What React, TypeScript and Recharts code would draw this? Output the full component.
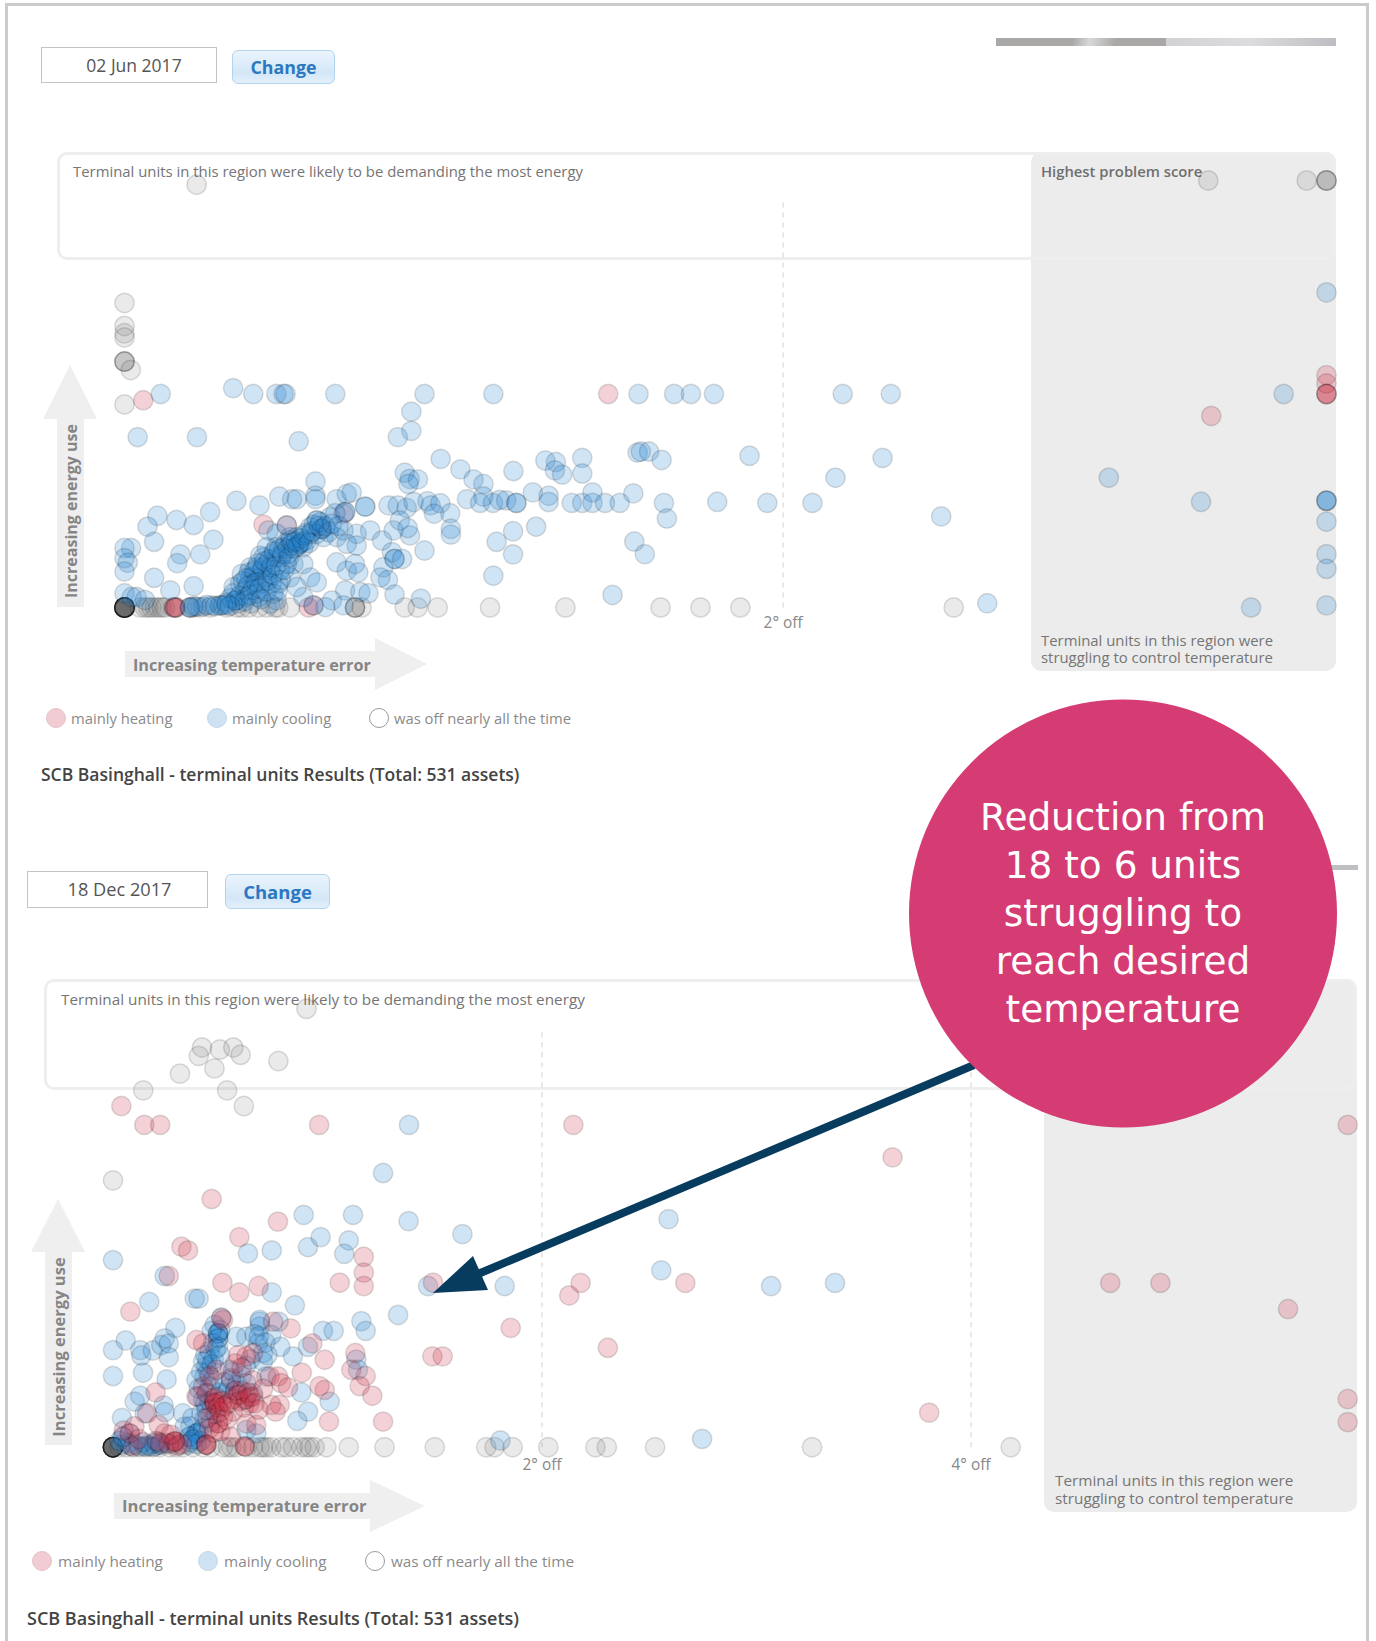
import React from "react";
import { ScatterChart, Scatter, XAxis, YAxis, ReferenceLine } from "recharts";

type Pt = [number, number];

// x = degrees off setpoint, y = energy use score (no scale printed, read as 0-105)
const junHeating: Pt[] = [
  [0.057, 49.5], [1.469, 51], [3.3, 45.75], [3.65, 55.5], [3.65, 53.5], [3.65, 51], [3.65, 51], [3.65, 51],
  [0.422, 19.8], [0.493, 19.6], [0.599, 18.8], [0.559, 0], [0.574, 0.5], [0.153, 0], [0.153, 0], [0.153, 0], [0.665, 22.4],
];

const junOff: Pt[] = [
  [0.219, 101], [3.291, 102], [3.59, 102], [3.65, 102], [3.65, 102], [3.65, 102],
  [0, 72.75], [0, 67.25], [0, 65.5], [0, 64.5], [0, 58.75], [0, 58.75], [0, 58.75], [0.019, 56.75], [0, 48.5],
  [0, 0], [0, 0], [0, 0], [0, 0], [0, 0], [0, 0], [0, 0], [0, 0], [0, 0], [0, 0], [0, 0], [0, 0], [0, 0], [0, 0], [0, 0], [0, 0],
  [0.047, 0], [0.062, 0], [0.072, 0], [0.082, 0], [0.093, 0], [0.103, 0], [0.113, 0], [0.123, 0], [0.148, 0], [0.158, 0],
  [0.199, 0], [0.209, 0], [0.229, 0], [0.26, 0], [0.311, 0], [0.341, 0], [0.356, 0], [0.377, 0], [0.407, 0], [0.432, 0],
  [0.457, 0], [0.467, 0], [0.503, 0], [0.7, 0], [0.7, 0], [0.7, 0], [0.72, 0], [0.851, 0], [0.89, 0], [0.951, 0], [1.11, 0],
  [1.339, 0], [1.628, 0], [1.749, 0], [1.87, 0], [2.518, 0],
];

const junCooling: Pt[] = [
  [0.11, 51], [0.33, 52.4], [0.391, 51], [0.461, 51], [0.483, 51], [0.489, 51], [0.64, 51], [0.911, 51], [1.12, 51],
  [1.561, 51], [1.669, 51], [1.72, 51], [1.79, 51], [2.181, 51], [2.327, 51], [3.52, 51],
  [0.04, 40.7], [0.22, 40.7], [0.529, 39.7], [0.871, 46.8], [0.871, 42.2], [0.83, 40.7], [0.96, 35.5], [1.02, 33],
  [1.06, 30.6], [1.09, 29.5], [1.181, 32.6], [1.278, 35.1], [0.851, 32.2], [0.866, 30.7], [0.891, 30.6], [0.862, 29.5], [0.58, 30.1],
  [1.04, 25.9], [1.09, 26.5], [1.08, 25], [1.119, 25], [1.139, 25.7], [1.159, 25.6], [1.19, 25], [1.19, 25], [1.24, 27.5], [1.288, 26.7], [1.288, 25.2],
  [0.34, 25.5], [0.41, 24.4], [0.47, 26.5], [0.509, 25.9], [0.523, 25.9], [0.58, 26.7], [0.58, 25.9], [0.644, 25.9], [0.675, 27.1], [0.69, 27.5],
  [0.67, 22.8], [0.67, 22.8], [0.731, 24.1], [0.731, 24.1], [0.802, 24.4], [0.83, 24.4], [0.857, 23.8], [0.878, 25.2], [0.92, 25.4], [0.93, 24.4],
  [0.959, 24.9], [0.989, 22.5], [0.94, 22.4], [0.991, 18.8], [0.991, 17.4],
  [0.1, 21.9], [0.07, 19.3], [0.158, 20.9], [0.21, 19.7], [0.26, 22.8], [0.09, 15.7], [0.27, 16.2], [0.02, 14.2], [0, 14.2], [0, 11.8], [0.01, 10.7], [0, 8.6],
  [0.17, 12.7], [0.16, 10.6], [0.23, 12.7], [0.09, 7.1], [0.139, 4.1], [0.21, 5.1], [0, 3.4], [0.022, 2.5], [0.037, 2.5], [0.062, 1.8],
  [0.199, 0], [0.199, 0], [0.24, 0.2], [0.265, 0.5], [0.29, 0.5], [0.29, 0.5], [0.337, 1.7], [0.337, 1.7], [0.337, 1.7],
  [0.331, 4.9], [0.382, 7.2], [0.392, 7.6], [0.402, 3.3], [0.407, 2.5], [0.422, 5.7], [0.377, 8.4], [0.442, 8.8], [0.462, 12], [0.422, 12], [0.452, 12.8],
  [0.483, 14.4], [0.503, 14.8], [0.531, 15.2], [0.531, 15.2], [0.531, 15.2], [0.553, 16], [0.584, 20.8], [0.584, 20.8], [0.599, 18.8], [0.599, 18.8],
  [0.624, 21.6], [0.564, 17.6], [0.493, 19.6], [0.437, 18.4], [0.462, 17.6], [0.513, 10.4], [0.503, 7.2], [0.543, 10.4], [0.564, 7.2], [0.584, 6],
  [0.644, 10.8], [0.675, 8.8], [0.7, 10.4], [0.71, 8.4], [0.67, 4.1], [0.716, 3.7], [0.741, 3.4], [0.63, 1.7], [0.61, 0.1], [0.574, 0.5], [0.543, 2.5], [0.523, 4.9], [0.665, 0.5],
  [0.644, 16.8], [0.665, 18.4], [0.705, 17.6], [0.705, 14.8], [0.675, 15.2], [0.746, 18.4], [0.817, 18.4], [0.867, 17.2], [0.836, 20.8], [0.782, 16],
  [0.812, 13.2], [0.82, 11.6], [0.82, 11.6], [0.843, 11.6], [0.786, 9.6], [0.8, 6.6], [0.777, 7.2], [0.82, 3.1], [0.911, 13.6], [0.9, 2.1], [0.86, 19],
  [1.13, 15.7], [1.18, 18.2], [1.25, 19.3], [1.18, 12.7], [1.12, 7.6],
  [0.351, 5.7], [0.356, 8], [0.366, 4.1], [0.371, 2.5], [0.382, 9.6], [0.392, 5.7], [0.402, 9.6], [0.412, 7.2], [0.417, 8.8], [0.432, 7.2], [0.432, 10.4],
  [0.447, 5.7], [0.452, 3.3], [0.462, 1.7], [0.467, 5.7], [0.472, 8.8], [0.477, 12], [0.493, 10.4], [0.498, 12.8], [0.412, 12.4], [0.432, 14.4], [0.462, 14.4],
  [0.503, 16.8], [0.523, 16.8], [0.543, 14.4], [0.564, 19.2], [0.584, 17.6], [0.604, 16.8], [0.442, 0.9],
  [1.31, 34.75], [1.307, 32.75], [1.329, 31.75], [1.39, 35.75], [1.39, 32], [1.558, 37], [1.568, 37.25], [1.593, 37.25], [1.631, 35.25], [1.898, 36.25],
  [2.302, 35.75], [2.159, 31], [1.358, 25], [1.39, 25], [1.421, 27.5], [1.421, 25], [1.459, 25], [1.504, 25], [1.545, 27.25], [1.638, 25], [1.647, 21.25],
  [1.8, 25.25], [1.952, 25], [2.089, 25], [2.48, 21.75], [3.269, 25.25], [2.989, 31], [1.548, 15.75], [1.58, 12.75], [1.482, 3], [2.62, 1],
  [3.65, 75.25], [3.65, 25.5], [3.65, 25.5], [3.65, 25.5], [3.65, 20.5], [3.65, 12.75], [3.65, 9.25], [3.65, 0.5], [3.421, 0],
  // dense band along the ridge
  [0.31, 1.2], [0.32, 2.2], [0.33, 3.4], [0.345, 1], [0.35, 2.8], [0.36, 6.2], [0.365, 1.5], [0.37, 7], [0.375, 5.2], [0.38, 3], [0.385, 1], [0.39, 4.2],
  [0.395, 8.8], [0.4, 6], [0.405, 10.5], [0.41, 4.6], [0.415, 2], [0.42, 9.5], [0.425, 11], [0.43, 3.8], [0.435, 6.4], [0.44, 11.5], [0.445, 9.6], [0.45, 7.8],
  [0.455, 13.4], [0.46, 10], [0.465, 4], [0.47, 14], [0.475, 6.6], [0.48, 12.8], [0.485, 9], [0.49, 15.4], [0.495, 14], [0.5, 12], [0.505, 16], [0.51, 15.5],
  [0.515, 14.2], [0.52, 15.8], [0.525, 14.6], [0.535, 16.5], [0.54, 15.6], [0.545, 17.2], [0.55, 17.8], [0.56, 15.4], [0.57, 18.2], [0.575, 19.8], [0.59, 19.5],
  [0.595, 20.4], [0.61, 19.4], [0.62, 18], [0.63, 20], [0.64, 22.5], [0.65, 19.5],
  [0.21, 0.3], [0.22, 0.2], [0.25, 0.6], [0.275, 0.3], [0.3, 0.5], [0.31, 0.7], [0.32, 0.4],
];

const decHeating: Pt[] = [
  [0.46, 59.3], [0.769, 53.9], [0.589, 50.2], [0.319, 47.9], [0.35, 47], [0.26, 40.9], [0.51, 39.3], [0.589, 37], [0.679, 38.5], [0.081, 32.4],
  [1.057, 39.3], [1.169, 45.5], [1.169, 41.7], [1.169, 38.5], [1.492, 39.3], [0.828, 28.4], [0.746, 30], [0.929, 24.8], [0.987, 20.9], [0.88, 17.8],
  [1.13, 22.5], [1.111, 18.5], [1.178, 17], [1.15, 14.6], [1.209, 12.3], [1.259, 6.1], [1.007, 6.1], [0.987, 13.7], [0.963, 14.6], [0.389, 25.6], [0.42, 24.8],
  [0.199, 13.1], [0.159, 8.1], [0.213, 5.3], [0.513, 30.4], [0.505, 30.8], [0.583, 22], [0.622, 21.7], [0.653, 22.5], [0.73, 16.9], [0.769, 16.9], [0.784, 15.3],
  [0.816, 14.3], [0.474, 10.5], [0.474, 10.5], [0.474, 10.5], [0.49, 10.9], [0.583, 12.5], [0.583, 12.5], [0.637, 10.5], [0.653, 12.1], [0.559, 8.5],
  [0.49, 5.7], [0.49, 5.7], [0.513, 7.3], [0.435, 12.9], [0.389, 12.1], [0.622, 5.7], [0.668, 5.3], [0.738, 10.1], [0.777, 10.1], [0.758, 8.5], [0.482, 18.5],
  [0.435, 0.6], [0.435, 0.6], [0.435, 0.6], [0.614, 0.2], [0.614, 0.2], [0.288, 1.4], [0.288, 1.4], [0.288, 1.4], [0.093, 0.2], [0.241, 3.3], [0.078, 3.3],
  [0.039, 81.5], [0.146, 77], [0.22, 77], [0.961, 77], [2.146, 77], [3.634, 69.25], [5.756, 77], [1.854, 28.5], [1.489, 21.7], [1.537, 21.7], [2.307, 23.75],
  [2.127, 36.25], [2.18, 39.25], [2.668, 39.25], [4.649, 39.25], [4.883, 39.25], [5.478, 33], [5.756, 11.5], [5.756, 6], [3.805, 8.25],
  // red core of the cluster
  [0.46, 9], [0.47, 11.5], [0.48, 12], [0.49, 9.5], [0.5, 8.5], [0.51, 11], [0.52, 9.8], [0.53, 6.5], [0.54, 10.5], [0.56, 11.5], [0.57, 13.5], [0.59, 11],
  [0.6, 13.5], [0.61, 9.5], [0.62, 11.5], [0.63, 13], [0.64, 12], [0.66, 10.5], [0.44, 7], [0.45, 4.5], [0.47, 3.5], [0.5, 3.8], [0.55, 2.5], [0.42, 14.5],
  [0.45, 17], [0.55, 16.5], [0.57, 20], [0.6, 19], [0.65, 16], [0.68, 9], [0.7, 14],
  [0.05, 4], [0.1, 5], [0.12, 2], [0.2, 1.5], [0.22, 1], [0.26, 0.8], [0.3, 0.4], [0.32, 0.7], [0.27, 3],
];

const decOff: Pt[] = [
  [0.902, 104.75], [0.415, 95.5], [0.4, 93.5], [0.498, 95], [0.561, 95.5], [0.595, 93.75], [0.473, 90.5], [0.312, 89.25], [0.771, 92.25],
  [0.141, 85.25], [0.532, 85.25], [0.61, 81.5], [0, 63.75],
  [0, 0], [0, 0], [0, 0], [0, 0], [0, 0], [0, 0], [0, 0], [0, 0], [0, 0], [0, 0], [0, 0], [0, 0], [0, 0], [0, 0], [0, 0], [0, 0],
  [0.031, 0], [0.062, 0], [0.093, 0], [0.124, 0], [0.155, 0], [0.186, 0], [0.218, 0], [0.264, 0], [0.295, 0], [0.326, 0], [0.373, 0], [0.42, 0], [0.458, 0],
  [0.513, 0], [0.536, 0], [0.552, 0], [0.575, 0], [0.622, 0], [0.653, 0], [0.684, 0], [0.699, 0], [0.715, 0], [0.738, 0], [0.785, 0], [0.808, 0], [0.839, 0],
  [0.878, 0], [0.901, 0], [0.917, 0], [0.94, 0], [0.995, 0], [1.099, 0], [1.266, 0], [1.5, 0], [1.74, 0], [1.779, 0],
  [1.863, 0], [2.029, 0], [2.249, 0], [2.302, 0], [2.527, 0], [3.259, 0], [4.185, 0],
];

const decCooling: Pt[] = [
  [0.889, 55.5], [1.119, 55.5], [1.378, 54], [1.629, 50.9], [0.629, 46.3], [0.74, 47], [0.909, 47.8], [0.968, 50.2], [1.099, 49.4], [1.078, 46.2], [0, 44.7],
  [0.241, 40.9], [0.169, 34.7], [0.381, 35.5], [0.399, 35.5], [0.74, 37], [0.848, 33.9], [1.469, 38.5], [1.826, 38.5], [1.329, 31.6], [0.291, 28.5],
  [1.158, 30.1], [1.178, 27.8], [0.979, 27.8], [1.029, 27.8], [0.684, 30], [0.772, 30], [0.738, 26.8], [0.059, 25.5], [0, 23.2], [0.127, 23.2], [0.132, 21.9],
  [0.186, 23.1], [0.225, 24.4], [0.241, 26], [0.26, 24.8], [0.26, 21.5], [0, 17], [0.14, 17.8], [0.25, 16.2], [0.101, 10.9], [0.127, 12.3], [0.042, 7],
  [0.148, 8.1], [0.236, 10], [0.241, 8.4], [0.909, 8.5], [0.859, 6.3], [1.01, 10.9], [0.878, 13.1], [0.839, 21.7], [0.909, 24], [0.78, 24], [1.134, 20.9], [1.142, 18.5],
  [0.505, 31], [0.474, 29.2], [0.49, 27.2], [0.49, 27.2], [0.49, 27.2], [0.49, 26], [0.49, 26], [0.466, 24.8], [0.435, 19.3], [0.427, 16.9], [0.443, 18.1],
  [0.389, 16.1], [0.396, 12.1], [0.412, 8.1], [0.427, 6.8], [0.389, 3.3], [0.389, 3.3], [0.389, 3.3], [0.357, 2.5], [0.357, 2.5], [0.326, 8.1], [0.334, 4.9],
  [0.575, 26.4], [0.622, 26.4], [0.684, 28.8], [0.684, 30.4], [0.676, 24.8], [0.699, 22.5], [0.699, 20.5], [0.559, 18.1], [0.622, 15.3], [0.528, 12.9], [0.544, 18.5],
  [0.451, 14.5], [0.466, 16.1], [0.42, 11.3], [0.435, 8.9], [0.614, 11.3], [0.653, 12.9], [0.622, 4.1], [0.668, 3.3], [0.715, 16.9],
  [0.039, 0.6], [0.047, 2.5], [0.047, 2.5], [0.078, 3.3], [0.148, 0.2], [0.171, 0.2], [0.194, 0.2], [0.218, 0.6], [0.218, 0.6], [0.249, 1], [0.28, 1], [1.806, 1.6],
  [1.38, 77], [1.259, 65.5], [2.59, 54.5], [2.556, 42.25], [3.068, 38.5], [3.366, 39.25], [2.746, 2],
  // blue part of the cluster
  [0.4, 14], [0.41, 18], [0.42, 20.5], [0.43, 22], [0.44, 21], [0.45, 23], [0.46, 19.8], [0.47, 21], [0.48, 23.5], [0.49, 24], [0.5, 22], [0.46, 27.8], [0.5, 28],
  [0.43, 10.5], [0.44, 13], [0.45, 11], [0.46, 6], [0.48, 8], [0.5, 13], [0.52, 15.5], [0.54, 14], [0.55, 16], [0.57, 13.5], [0.58, 15], [0.6, 17], [0.62, 19.5],
  [0.64, 21], [0.66, 27], [0.68, 26.5], [0.71, 25], [0.72, 22], [0.36, 5], [0.37, 7], [0.38, 2], [0.4, 3.5], [0.41, 1.5], [0.35, 0.6], [0.36, 1.2], [0.37, 1.8],
  [0.39, 0.8], [0.42, 4.5], [0.07, 1], [0.08, 0.4], [0.1, 0.7], [0.12, 0.3], [0.14, 1.2], [0.16, 0.5], [0.19, 0.9], [0.21, 1.3], [0.03, 1.5],
];

const junTicks = [2];
const decTicks = [2, 4];
const legendNames = ["mainly heating", "mainly cooling", "was off nearly all the time"];
const calloutLines = ["Reduction from", "18 to 6 units", "struggling to", "reach desired", "temperature"];

const FONT = "'Open Sans', sans-serif";

const toRows = (pts: Pt[]) => pts.map(([x, y]) => ({ x, y }));

const dot = (fill: string) => (p: any) =>
  <circle cx={p.cx} cy={p.cy} r={9.7} fill={fill} stroke="rgba(0,0,0,0.135)" strokeWidth={1.5} />;

const HEAT = "rgba(205,45,70,0.22)";
const COOL = "rgba(35,130,210,0.22)";
const OFF = "rgba(90,90,90,0.13)";

const Box: React.FC<{ l: number; t: number; w: number; h: number; style?: React.CSSProperties; children?: React.ReactNode }> = ({ l, t, w, h, style, children }) => (
  <div style={{ position: "absolute", left: l, top: t, width: w, height: h, boxSizing: "border-box", ...style }}>{children}</div>
);

const Txt: React.FC<{ l: number; cy: number; size: number; color: string; bold?: number; children: React.ReactNode }> = ({ l, cy, size, color, bold, children }) => (
  <div style={{ position: "absolute", left: l, top: cy - 15, height: 30, lineHeight: "30px", fontSize: size, color, fontWeight: bold ?? 400, whiteSpace: "nowrap" }}>
    {children}
  </div>
);

const DateRow: React.FC<{ label: string; box: number[]; btn: number[]; size: number; btnSize: number; pad: number }> = ({ label, box, btn, size, btnSize, pad }) => (
  <>
    <Box l={box[0]} t={box[1]} w={box[2]} h={box[3]} style={{ border: "1.5px solid #c4c4c4", background: "#fff", textAlign: "center", lineHeight: `${box[3] - 2}px`, paddingLeft: pad, fontSize: size, color: "#555" }}>
      {label}
    </Box>
    <Box l={btn[0]} t={btn[1]} w={btn[2]} h={btn[3]} style={{ border: "1.5px solid #b3d4ee", borderRadius: 6, background: "linear-gradient(#eaf4fc, #d3e7f8 70%, #e4f0fb)", textAlign: "center", lineHeight: `${btn[3] - 2}px`, fontSize: btnSize, fontWeight: 700, color: "#2b78c0" }}>
      Change
    </Box>
  </>
);

const Legend: React.FC<{ cy: number; dots: number[]; labels: number[]; size: number }> = ({ cy, dots, labels, size }) => (
  <>
    {legendNames.map((name, i) => (
      <React.Fragment key={name}>
        <Box l={dots[i] - 10} t={cy - 10} w={20} h={20} style={{ borderRadius: "50%", background: ["#f1ccd2", "#cfe2f3", "#fff"][i], border: `1.5px solid ${["#e6c3ca", "#c3d7e8", "#999"][i]}` }} />
        <Txt l={labels[i]} cy={cy} size={size} color="#8a8a8a">{name}</Txt>
      </React.Fragment>
    ))}
  </>
);

const UpArrow: React.FC<{ tipX: number; tipY: number; baseY: number; endY: number; label: string; labelY: number; labelX: number; size: number }> = ({ tipX, tipY, baseY, endY, label, labelX, labelY, size }) => (
  <svg style={{ position: "absolute", left: 0, top: 0 }} width={1376} height={1641}>
    <polygon fill="#efefef" points={`${tipX},${tipY} ${tipX + 27},${baseY} ${tipX + 14},${baseY} ${tipX + 14},${endY} ${tipX - 13},${endY} ${tipX - 13},${baseY} ${tipX - 27},${baseY}`} />
    <text x={labelX} y={labelY} transform={`rotate(-90 ${labelX} ${labelY})`} textAnchor="middle" dominantBaseline="central" fontFamily={FONT} fontWeight={700} fontSize={size} fill="#858585">{label}</text>
  </svg>
);

const RightArrow: React.FC<{ x0: number; x1: number; tip: number; cy: number; label: string; tx: number; ty: number; size: number }> = ({ x0, x1, tip, cy, label, tx, ty, size }) => (
  <svg style={{ position: "absolute", left: 0, top: 0 }} width={1376} height={1641}>
    <polygon fill="#efefef" points={`${x0},${cy - 13} ${x1},${cy - 13} ${x1},${cy - 26} ${tip},${cy} ${x1},${cy + 26} ${x1},${cy + 13} ${x0},${cy + 13}`} />
    <text x={tx} y={ty} dominantBaseline="central" fontFamily={FONT} fontWeight={700} fontSize={size} fill="#858585">{label}</text>
  </svg>
);

const Plot: React.FC<{
  top: number; height: number; margin: any; xMax: number; yMax: number; ticks: number[]; lineTop: number; tickMargin: number; heatingOnTop?: boolean;
  heating: Pt[]; cooling: Pt[]; off: Pt[];
}> = ({ top, height, margin, xMax, yMax, ticks, lineTop, tickMargin, heatingOnTop, heating, cooling, off }) => (
  <div style={{ position: "absolute", left: 0, top }}>
    <ScatterChart width={1376} height={height} margin={margin}>
      <XAxis type="number" dataKey="x" domain={[0, xMax]} ticks={ticks} interval={0} tickFormatter={(v: number) => `${v}° off`} axisLine={false} tickLine={false} tickSize={0} tickMargin={tickMargin} height={30} tick={{ fontFamily: FONT, fontSize: 15.4, fill: "#888" }} />
      <YAxis type="number" dataKey="y" domain={[0, yMax]} hide />
      {ticks.map((t) => (
        <ReferenceLine key={t} segment={[{ x: t, y: 0 }, { x: t, y: lineTop }]} stroke="#dcdcdc" strokeWidth={1.3} strokeDasharray="5 5" />
      ))}
      <Scatter data={toRows(off)} shape={dot(OFF)} isAnimationActive={false} />
      {heatingOnTop ? null : <Scatter data={toRows(heating)} shape={dot(HEAT)} isAnimationActive={false} />}
      <Scatter data={toRows(cooling)} shape={dot(COOL)} isAnimationActive={false} />
      {heatingOnTop ? <Scatter data={toRows(heating)} shape={dot(HEAT)} isAnimationActive={false} /> : null}
    </ScatterChart>
  </div>
);

export default function App() {
  return (
    <div style={{ position: "absolute", left: 0, top: 0, width: 1376, height: 1641, overflow: "hidden", background: "#fff", fontFamily: FONT }}>
      {/* page frame */}
      <Box l={5} t={3} w={1364} h={1700} style={{ border: "3px solid #cbcbcb" }} />

      {/* June panel */}
      <DateRow label="02 Jun 2017" box={[41, 47, 176, 36]} btn={[232, 50, 103, 34]} size={17.5} btnSize={17.8} pad={10} />
      <Box l={996} t={38} w={170} h={8} style={{ background: "linear-gradient(100deg, #aaa8a7 45%, #d8d8d8 55%, #aaa8a7 70%)" }} />
      <Box l={1166} t={38} w={170} h={8} style={{ background: "linear-gradient(90deg, #d2d2d4, #dcdcde 50%, #bdbdc2)" }} />
      <Box l={1031} t={152} w={305} h={519} style={{ background: "#ececec", borderRadius: 10 }} />
      <Box l={57} t={152} w={1279} h={108} style={{ border: "3px solid #eeeeee", borderRadius: 10 }} />
      <Txt l={73} cy={171} size={14.9} color="#757575">Terminal units in this region were likely to be demanding the most energy</Txt>
      <Txt l={1041} cy={171} size={14.8} color="#6f6f6f" bold={600}>Highest problem score</Txt>
      <Txt l={1041} cy={640} size={14.9} color="#757575">Terminal units in this region were</Txt>
      <Txt l={1041} cy={657} size={14.9} color="#757575">struggling to control temperature</Txt>
      <UpArrow tipX={70} tipY={365} baseY={419} endY={607} labelX={71} labelY={511} size={16} label="Increasing energy use" />
      <RightArrow x0={125} x1={375} tip={427} cy={664} tx={133} ty={665} size={16.2} label="Increasing temperature error" />
      <Legend cy={718} dots={[56, 217, 379]} labels={[71, 232, 394]} size={14.8} />
      <Txt l={41} cy={774} size={17.5} color="#444" bold={600}>SCB Basinghall - terminal units Results (Total: 531 assets)</Txt>

      {/* December panel */}
      <DateRow label="18 Dec 2017" box={[27, 871, 181, 37]} btn={[225, 874, 105, 35]} size={18.2} btnSize={18.5} pad={4} />
      <Box l={1000} t={865} w={358} h={5} style={{ background: "#bfbfc3" }} />
      <Box l={1044} t={979} w={313} h={533} style={{ background: "#ececec", borderRadius: 10 }} />
      <Box l={44} t={979} w={1313} h={111} style={{ border: "3px solid #eeeeee", borderRadius: 10 }} />
      <Txt l={61} cy={999} size={15.3} color="#757575">Terminal units in this region were likely to be demanding the most energy</Txt>
      <Txt l={1055} cy={1480} size={15.3} color="#757575">Terminal units in this region were</Txt>
      <Txt l={1055} cy={1498} size={15.3} color="#757575">struggling to control temperature</Txt>
      <UpArrow tipX={58} tipY={1199} baseY={1252} endY={1445} labelX={58} labelY={1347} size={16.5} label="Increasing energy use" />
      <RightArrow x0={114} x1={370} tip={425} cy={1506} tx={122} ty={1505} size={16.65} label="Increasing temperature error" />
      <Legend cy={1561} dots={[42, 208, 375]} labels={[58, 224, 391]} size={15.3} />
      <Txt l={27} cy={1618} size={18} color="#444" bold={600}>SCB Basinghall - terminal units Results (Total: 531 assets)</Txt>

      <Plot top={0} height={800} margin={{ left: 124.5, right: 49.5, top: 180.5, bottom: 162.5 }} xMax={3.65} yMax={102} ticks={junTicks} lineTop={97.5} tickMargin={10} heating={junHeating} cooling={junCooling} off={junOff} />
      <Plot top={800} height={841} margin={{ left: 113, right: 28.3, top: 207.7, bottom: 163.8 }} xMax={5.756} yMax={105} ticks={decTicks} lineTop={100.25} tickMargin={12} heatingOnTop heating={decHeating} cooling={decCooling} off={decOff} />

      {/* callout */}
      <svg style={{ position: "absolute", left: 0, top: 0 }} width={1376} height={1641}>
        <line x1={974} y1={1065} x2={478} y2={1274} stroke="#083c5f" strokeWidth={8} />
        <polygon points="433,1293 473,1256 488,1290" fill="#083c5f" />
        <circle cx={1123} cy={913.5} r={214} fill="#d43c73" />
        {calloutLines.map((line, i) => (
          <text key={line} x={1123} y={817 + i * 48} textAnchor="middle" dominantBaseline="central" fontFamily="'DejaVu Sans', sans-serif" fontSize={37.4} fill="#fff">{line}</text>
        ))}
      </svg>
    </div>
  );
}
